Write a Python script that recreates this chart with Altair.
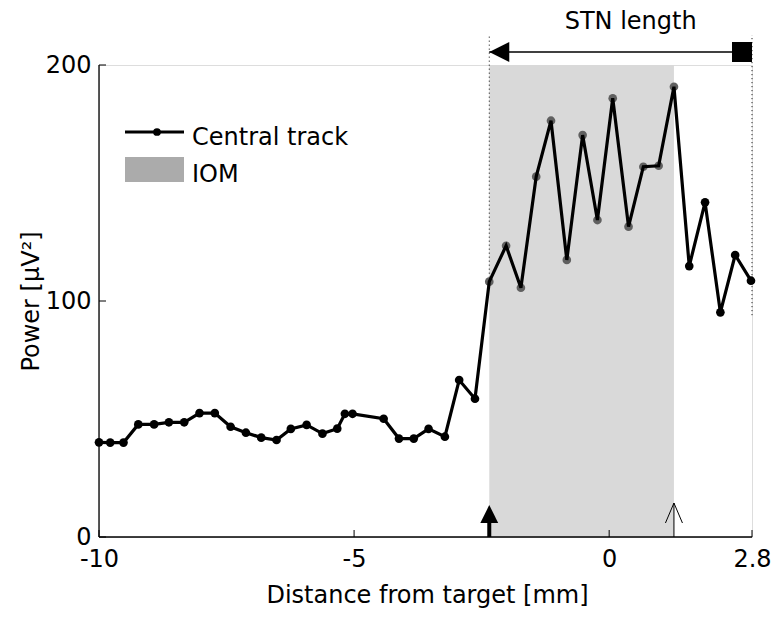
import altair as alt
import pandas as pd

# ---- data ----
distance = [-10.0, -9.78, -9.52, -9.23, -8.92, -8.63, -8.33, -8.03, -7.73, -7.42,
            -7.12, -6.82, -6.52, -6.24, -5.93, -5.62, -5.33, -5.18, -5.03, -4.42,
            -4.12, -3.83, -3.54, -3.22, -2.94, -2.63, -2.35, -2.02, -1.73, -1.43,
            -1.14, -0.83, -0.52, -0.23, 0.07, 0.38, 0.67, 0.97, 1.27, 1.57,
            1.88, 2.18, 2.47, 2.78]
power = [40.1, 40.0, 40.0, 47.7, 47.7, 48.6, 48.6, 52.5, 52.5, 46.7,
         44.2, 42.1, 41.1, 45.8, 47.5, 43.8, 45.9, 52.2, 52.2, 50.1,
         41.7, 41.7, 45.8, 42.5, 66.5, 58.6, 108.2, 123.4, 105.6, 152.7,
         176.4, 117.4, 170.3, 134.3, 185.9, 131.5, 156.9, 157.3, 190.8, 114.8,
         141.8, 95.2, 119.5, 108.6]

iom_start = -2.35
iom_end = 1.27
iom_top = 200
stn_end = 2.8
stn_left_dot_end = 108.2
stn_right_dot_end = 94

x_ticks = [-10, -5, 0, 2.8]
y_ticks = [0, 100, 200]

FONT = "DejaVu Sans"
FS = 24

df = pd.DataFrame({"x": distance, "y": power})
df["inside"] = (df["x"] >= iom_start - 1e-9) & (df["x"] <= iom_end + 1e-9)
inside_df = df[df["inside"]]
outside_df = df[~df["inside"]]

xs = alt.Scale(domain=[-10, 2.8], nice=False, zero=False)
ys = alt.Scale(domain=[0, 200], nice=False, zero=True)

x_axis = alt.Axis(values=x_ticks, labelExpr="'' + datum.value", ticks=False, tickSize=0,
                  grid=False, domain=False,
                  labelFont=FONT, labelFontSize=FS, labelColor="black", labelPadding=10,
                  labelFlush=False,
                  title="Distance from target [mm]", titleFont=FONT, titleFontSize=FS,
                  titleFontWeight="normal", titleColor="black",
                  titleX=328, titleY=65, titleBaseline="alphabetic", titleAlign="center")
y_axis = alt.Axis(values=y_ticks, labelExpr="'' + datum.value", ticks=False, tickSize=0,
                  grid=False, domain=False,
                  labelFont=FONT, labelFontSize=FS, labelColor="black", labelPadding=8,
                  labelFlush=False,
                  title="Power [μV²]", titleFont=FONT, titleFontSize=FS,
                  titleFontWeight="normal", titleColor="black",
                  titleX=-68, titleY=236, titleBaseline="middle", titleAlign="center",
                  titleAngle=270)

one = pd.DataFrame({"a": [0]})

# shaded IOM region
shade = alt.Chart(pd.DataFrame({"x": [iom_start], "x2": [iom_end], "y": [0], "y2": [iom_top]})).mark_rect(
    color="#d9d9d9").encode(
    x=alt.X("x:Q", scale=xs, axis=x_axis),
    x2="x2:Q",
    y=alt.Y("y:Q", scale=ys, axis=y_axis),
    y2="y2:Q")

# axis lines (box off, MATLAB style)
x_line = alt.Chart(pd.DataFrame({"x": [-10], "x2": [2.8]})).mark_rule(color="black", strokeWidth=1.3).encode(
    x=alt.X("x:Q", scale=xs), x2="x2:Q", y=alt.value(472))
y_line = alt.Chart(pd.DataFrame({"y": [0], "y2": [200]})).mark_rule(color="black", strokeWidth=1.3).encode(
    y=alt.Y("y:Q", scale=ys), y2="y2:Q", x=alt.value(0))

# dotted boundaries of STN
dots = alt.Chart(pd.DataFrame({"x": [iom_start, stn_end], "y": [stn_left_dot_end, stn_right_dot_end]})).mark_rule(
    color="black", strokeWidth=1, strokeDash=[1, 3]).encode(
    x=alt.X("x:Q", scale=xs), y=alt.Y("y:Q", scale=ys), y2=alt.value(-30))

# inward ticks
xt = alt.Chart(pd.DataFrame({"x": x_ticks})).mark_rule(color="black", strokeWidth=1).encode(
    x=alt.X("x:Q", scale=xs), y=alt.value(472), y2=alt.value(465))
yt = alt.Chart(pd.DataFrame({"y": y_ticks})).mark_rule(color="black", strokeWidth=1).encode(
    y=alt.Y("y:Q", scale=ys), x=alt.value(0), x2=alt.value(7))

# bottom arrows
thick_shaft = alt.Chart(pd.DataFrame({"x": [iom_start]})).mark_rule(color="black", strokeWidth=4).encode(
    x=alt.X("x:Q", scale=xs), y=alt.value(472), y2=alt.value(450))
thick_head = alt.Chart(pd.DataFrame({"x": [iom_start]})).mark_point(
    shape="M0,-1L1,1L-1,1Z", filled=True, color="black", opacity=1, size=320).encode(
    x=alt.X("x:Q", scale=xs), y=alt.value(449))
thin_shaft = alt.Chart(pd.DataFrame({"x": [iom_end]})).mark_rule(color="black", strokeWidth=1).encode(
    x=alt.X("x:Q", scale=xs), y=alt.value(472), y2=alt.value(438))
thin_head = alt.Chart(pd.DataFrame({"x": [iom_end]})).mark_point(
    shape="M-0.85,1L0,-1L0.85,1", filled=False, color="black", strokeWidth=1, opacity=1, size=400).encode(
    x=alt.X("x:Q", scale=xs), y=alt.value(448))

# data
grey_pts = alt.Chart(inside_df).mark_circle(color="#606060", size=75, opacity=1).encode(
    x=alt.X("x:Q", scale=xs), y=alt.Y("y:Q", scale=ys))
line = alt.Chart(df).mark_line(color="black", strokeWidth=3.2).encode(
    x=alt.X("x:Q", scale=xs), y=alt.Y("y:Q", scale=ys), order="x:Q")
black_pts = alt.Chart(outside_df).mark_circle(color="black", size=75, opacity=1).encode(
    x=alt.X("x:Q", scale=xs), y=alt.Y("y:Q", scale=ys))

# STN length annotation
stn_line = alt.Chart(pd.DataFrame({"x": [iom_start], "x2": [stn_end]})).mark_rule(
    color="black", strokeWidth=1.5).encode(
    x=alt.X("x:Q", scale=xs), x2="x2:Q", y=alt.value(-13))
stn_tri = alt.Chart(pd.DataFrame({"x": [iom_start]})).mark_point(
    shape="M-1,0L1,-1L1,1Z", filled=True, color="black", opacity=1, size=400, xOffset=10).encode(
    x=alt.X("x:Q", scale=xs), y=alt.value(-13))
stn_sq = alt.Chart(pd.DataFrame({"x": [stn_end]})).mark_point(
    shape="square", filled=True, color="black", opacity=1, size=400, xOffset=-10).encode(
    x=alt.X("x:Q", scale=xs), y=alt.value(-13))
stn_text = alt.Chart(pd.DataFrame({"x": [(iom_start + stn_end) / 2], "t": ["STN length"]})).mark_text(
    font=FONT, fontSize=FS, color="black", baseline="alphabetic", align="center", dx=10).encode(
    x=alt.X("x:Q", scale=xs), y=alt.value(-36), text="t:N")

# legend
leg_line = alt.Chart(one).mark_rule(color="black", strokeWidth=3).encode(
    x=alt.value(26), x2=alt.value(85), y=alt.value(67))
leg_dot = alt.Chart(one).mark_circle(color="black", size=60, opacity=1).encode(
    x=alt.value(58), y=alt.value(67))
leg_patch = alt.Chart(one).mark_rect(color="#ababab").encode(
    x=alt.value(26), x2=alt.value(85), y=alt.value(92), y2=alt.value(117))
leg_text = alt.Chart(pd.DataFrame({"t": ["Central track", "IOM"], "py": [80, 117]})).mark_text(
    font=FONT, fontSize=FS, color="black", baseline="alphabetic", align="left").encode(
    x=alt.value(93), y=alt.Y("py:Q", scale=None), text="t:N")

chart = alt.layer(
    shade, x_line, y_line, dots, xt, yt, thick_shaft, thick_head, thin_shaft, thin_head,
    grey_pts, line, black_pts, stn_line, stn_tri, stn_sq, stn_text,
    leg_line, leg_dot, leg_patch, leg_text
).properties(
    width=653, height=472,
    autosize=alt.AutoSizeParams(type="none"),
    padding={"left": 91, "top": 57, "right": 22, "bottom": 73},
).configure_view(stroke=None).configure(background="white")

chart.save("out.html", embed_options={"renderer": "svg", "actions": False})
